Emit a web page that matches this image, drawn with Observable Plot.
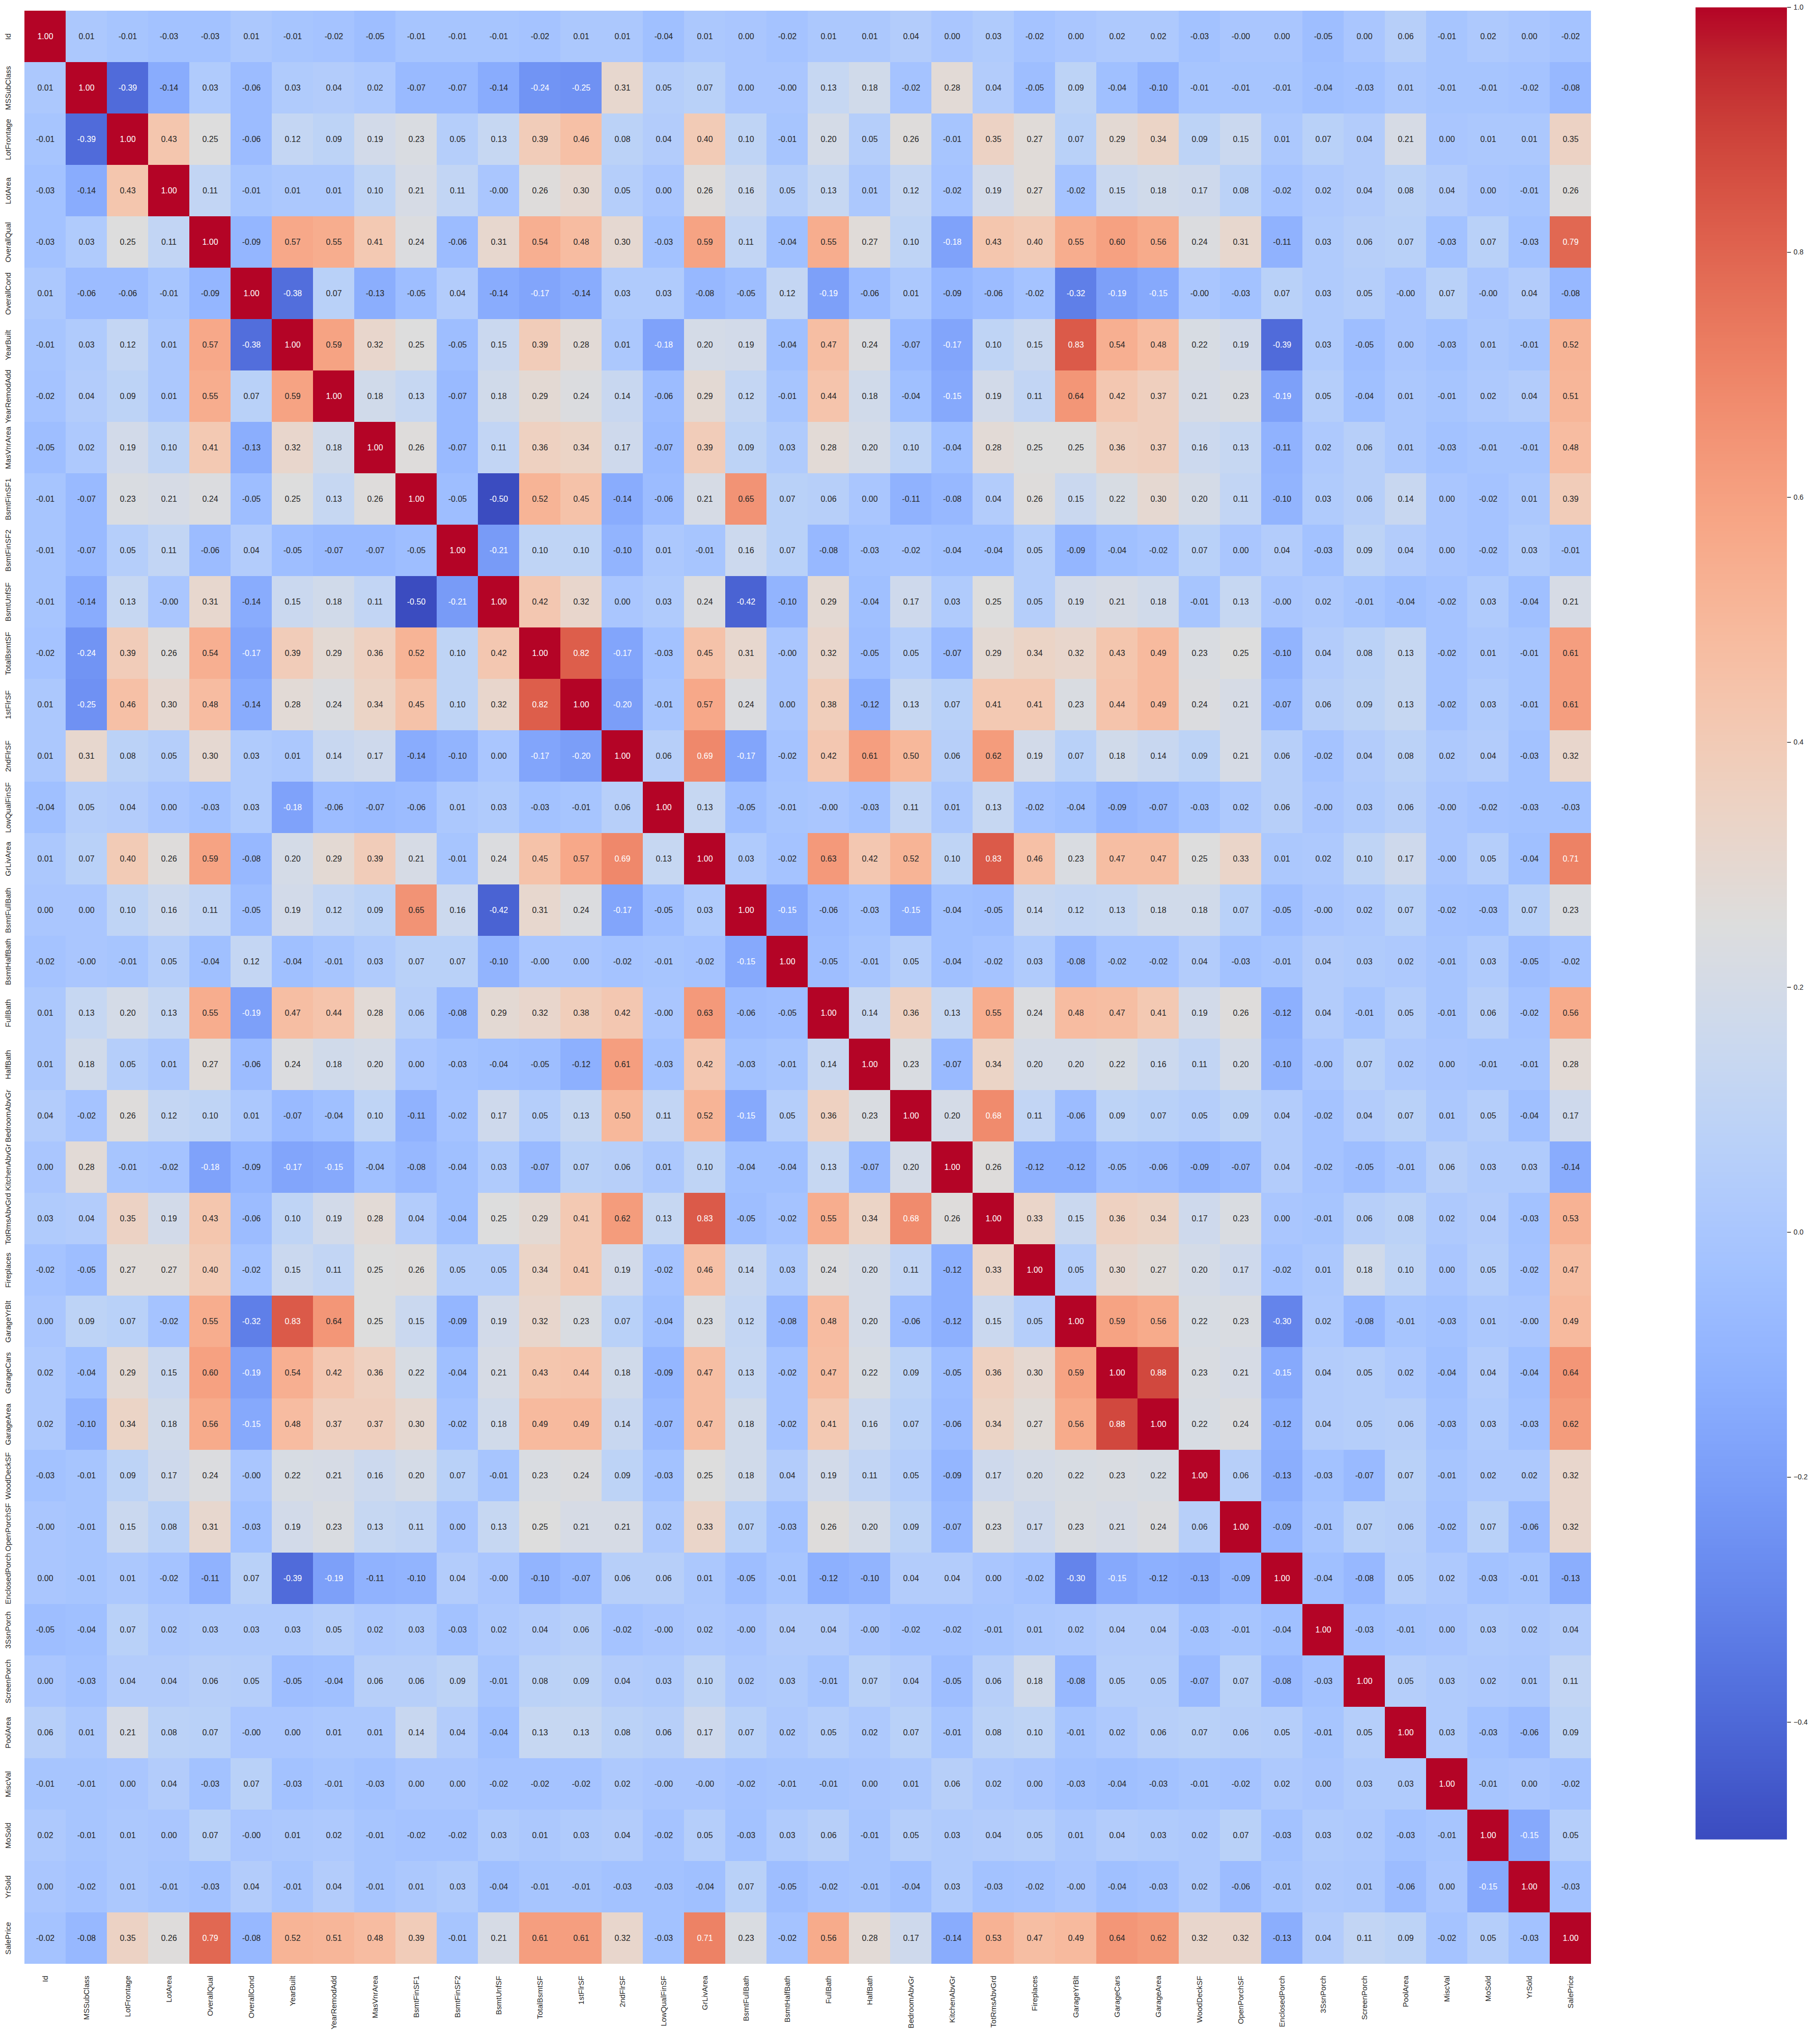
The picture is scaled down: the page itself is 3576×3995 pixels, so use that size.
<!DOCTYPE html>
<html>
<head>
<meta charset="utf-8">
<script src="https://cdn.jsdelivr.net/npm/d3@7"></script>
<script src="https://cdn.jsdelivr.net/npm/@observablehq/plot@0.6"></script>
<style>
  html, body { margin: 0; padding: 0; background: #ffffff; }
  #wrap { position: relative; width: 3576px; height: 3995px; background: #ffffff; }
  #main { position: absolute; left: 0; top: 0; }
  #cbar { position: absolute; left: 3331px; top: 0; }
</style>
</head>
<body>
<div id="wrap"><div id="main"></div><div id="cbar"></div></div>
<script>
// variable names (rows top->bottom, columns left->right)
const labels = ["Id","MSSubClass","LotFrontage","LotArea","OverallQual","OverallCond","YearBuilt","YearRemodAdd","MasVnrArea","BsmtFinSF1","BsmtFinSF2","BsmtUnfSF","TotalBsmtSF","1stFlrSF","2ndFlrSF","LowQualFinSF","GrLivArea","BsmtFullBath","BsmtHalfBath","FullBath","HalfBath","BedroomAbvGr","KitchenAbvGr","TotRmsAbvGrd","Fireplaces","GarageYrBlt","GarageCars","GarageArea","WoodDeckSF","OpenPorchSF","EnclosedPorch","3SsnPorch","ScreenPorch","PoolArea","MiscVal","MoSold","YrSold","SalePrice"];

// correlation matrix, one row per variable
const corr = [
[1.00,0.01,-0.01,-0.03,-0.03,0.01,-0.01,-0.02,-0.05,-0.01,-0.01,-0.01,-0.02,0.01,0.01,-0.04,0.01,0.00,-0.02,0.01,0.01,0.04,0.00,0.03,-0.02,0.00,0.02,0.02,-0.03,-0.00,0.00,-0.05,0.00,0.06,-0.01,0.02,0.00,-0.02],
[0.01,1.00,-0.39,-0.14,0.03,-0.06,0.03,0.04,0.02,-0.07,-0.07,-0.14,-0.24,-0.25,0.31,0.05,0.07,0.00,-0.00,0.13,0.18,-0.02,0.28,0.04,-0.05,0.09,-0.04,-0.10,-0.01,-0.01,-0.01,-0.04,-0.03,0.01,-0.01,-0.01,-0.02,-0.08],
[-0.01,-0.39,1.00,0.43,0.25,-0.06,0.12,0.09,0.19,0.23,0.05,0.13,0.39,0.46,0.08,0.04,0.40,0.10,-0.01,0.20,0.05,0.26,-0.01,0.35,0.27,0.07,0.29,0.34,0.09,0.15,0.01,0.07,0.04,0.21,0.00,0.01,0.01,0.35],
[-0.03,-0.14,0.43,1.00,0.11,-0.01,0.01,0.01,0.10,0.21,0.11,-0.00,0.26,0.30,0.05,0.00,0.26,0.16,0.05,0.13,0.01,0.12,-0.02,0.19,0.27,-0.02,0.15,0.18,0.17,0.08,-0.02,0.02,0.04,0.08,0.04,0.00,-0.01,0.26],
[-0.03,0.03,0.25,0.11,1.00,-0.09,0.57,0.55,0.41,0.24,-0.06,0.31,0.54,0.48,0.30,-0.03,0.59,0.11,-0.04,0.55,0.27,0.10,-0.18,0.43,0.40,0.55,0.60,0.56,0.24,0.31,-0.11,0.03,0.06,0.07,-0.03,0.07,-0.03,0.79],
[0.01,-0.06,-0.06,-0.01,-0.09,1.00,-0.38,0.07,-0.13,-0.05,0.04,-0.14,-0.17,-0.14,0.03,0.03,-0.08,-0.05,0.12,-0.19,-0.06,0.01,-0.09,-0.06,-0.02,-0.32,-0.19,-0.15,-0.00,-0.03,0.07,0.03,0.05,-0.00,0.07,-0.00,0.04,-0.08],
[-0.01,0.03,0.12,0.01,0.57,-0.38,1.00,0.59,0.32,0.25,-0.05,0.15,0.39,0.28,0.01,-0.18,0.20,0.19,-0.04,0.47,0.24,-0.07,-0.17,0.10,0.15,0.83,0.54,0.48,0.22,0.19,-0.39,0.03,-0.05,0.00,-0.03,0.01,-0.01,0.52],
[-0.02,0.04,0.09,0.01,0.55,0.07,0.59,1.00,0.18,0.13,-0.07,0.18,0.29,0.24,0.14,-0.06,0.29,0.12,-0.01,0.44,0.18,-0.04,-0.15,0.19,0.11,0.64,0.42,0.37,0.21,0.23,-0.19,0.05,-0.04,0.01,-0.01,0.02,0.04,0.51],
[-0.05,0.02,0.19,0.10,0.41,-0.13,0.32,0.18,1.00,0.26,-0.07,0.11,0.36,0.34,0.17,-0.07,0.39,0.09,0.03,0.28,0.20,0.10,-0.04,0.28,0.25,0.25,0.36,0.37,0.16,0.13,-0.11,0.02,0.06,0.01,-0.03,-0.01,-0.01,0.48],
[-0.01,-0.07,0.23,0.21,0.24,-0.05,0.25,0.13,0.26,1.00,-0.05,-0.50,0.52,0.45,-0.14,-0.06,0.21,0.65,0.07,0.06,0.00,-0.11,-0.08,0.04,0.26,0.15,0.22,0.30,0.20,0.11,-0.10,0.03,0.06,0.14,0.00,-0.02,0.01,0.39],
[-0.01,-0.07,0.05,0.11,-0.06,0.04,-0.05,-0.07,-0.07,-0.05,1.00,-0.21,0.10,0.10,-0.10,0.01,-0.01,0.16,0.07,-0.08,-0.03,-0.02,-0.04,-0.04,0.05,-0.09,-0.04,-0.02,0.07,0.00,0.04,-0.03,0.09,0.04,0.00,-0.02,0.03,-0.01],
[-0.01,-0.14,0.13,-0.00,0.31,-0.14,0.15,0.18,0.11,-0.50,-0.21,1.00,0.42,0.32,0.00,0.03,0.24,-0.42,-0.10,0.29,-0.04,0.17,0.03,0.25,0.05,0.19,0.21,0.18,-0.01,0.13,-0.00,0.02,-0.01,-0.04,-0.02,0.03,-0.04,0.21],
[-0.02,-0.24,0.39,0.26,0.54,-0.17,0.39,0.29,0.36,0.52,0.10,0.42,1.00,0.82,-0.17,-0.03,0.45,0.31,-0.00,0.32,-0.05,0.05,-0.07,0.29,0.34,0.32,0.43,0.49,0.23,0.25,-0.10,0.04,0.08,0.13,-0.02,0.01,-0.01,0.61],
[0.01,-0.25,0.46,0.30,0.48,-0.14,0.28,0.24,0.34,0.45,0.10,0.32,0.82,1.00,-0.20,-0.01,0.57,0.24,0.00,0.38,-0.12,0.13,0.07,0.41,0.41,0.23,0.44,0.49,0.24,0.21,-0.07,0.06,0.09,0.13,-0.02,0.03,-0.01,0.61],
[0.01,0.31,0.08,0.05,0.30,0.03,0.01,0.14,0.17,-0.14,-0.10,0.00,-0.17,-0.20,1.00,0.06,0.69,-0.17,-0.02,0.42,0.61,0.50,0.06,0.62,0.19,0.07,0.18,0.14,0.09,0.21,0.06,-0.02,0.04,0.08,0.02,0.04,-0.03,0.32],
[-0.04,0.05,0.04,0.00,-0.03,0.03,-0.18,-0.06,-0.07,-0.06,0.01,0.03,-0.03,-0.01,0.06,1.00,0.13,-0.05,-0.01,-0.00,-0.03,0.11,0.01,0.13,-0.02,-0.04,-0.09,-0.07,-0.03,0.02,0.06,-0.00,0.03,0.06,-0.00,-0.02,-0.03,-0.03],
[0.01,0.07,0.40,0.26,0.59,-0.08,0.20,0.29,0.39,0.21,-0.01,0.24,0.45,0.57,0.69,0.13,1.00,0.03,-0.02,0.63,0.42,0.52,0.10,0.83,0.46,0.23,0.47,0.47,0.25,0.33,0.01,0.02,0.10,0.17,-0.00,0.05,-0.04,0.71],
[0.00,0.00,0.10,0.16,0.11,-0.05,0.19,0.12,0.09,0.65,0.16,-0.42,0.31,0.24,-0.17,-0.05,0.03,1.00,-0.15,-0.06,-0.03,-0.15,-0.04,-0.05,0.14,0.12,0.13,0.18,0.18,0.07,-0.05,-0.00,0.02,0.07,-0.02,-0.03,0.07,0.23],
[-0.02,-0.00,-0.01,0.05,-0.04,0.12,-0.04,-0.01,0.03,0.07,0.07,-0.10,-0.00,0.00,-0.02,-0.01,-0.02,-0.15,1.00,-0.05,-0.01,0.05,-0.04,-0.02,0.03,-0.08,-0.02,-0.02,0.04,-0.03,-0.01,0.04,0.03,0.02,-0.01,0.03,-0.05,-0.02],
[0.01,0.13,0.20,0.13,0.55,-0.19,0.47,0.44,0.28,0.06,-0.08,0.29,0.32,0.38,0.42,-0.00,0.63,-0.06,-0.05,1.00,0.14,0.36,0.13,0.55,0.24,0.48,0.47,0.41,0.19,0.26,-0.12,0.04,-0.01,0.05,-0.01,0.06,-0.02,0.56],
[0.01,0.18,0.05,0.01,0.27,-0.06,0.24,0.18,0.20,0.00,-0.03,-0.04,-0.05,-0.12,0.61,-0.03,0.42,-0.03,-0.01,0.14,1.00,0.23,-0.07,0.34,0.20,0.20,0.22,0.16,0.11,0.20,-0.10,-0.00,0.07,0.02,0.00,-0.01,-0.01,0.28],
[0.04,-0.02,0.26,0.12,0.10,0.01,-0.07,-0.04,0.10,-0.11,-0.02,0.17,0.05,0.13,0.50,0.11,0.52,-0.15,0.05,0.36,0.23,1.00,0.20,0.68,0.11,-0.06,0.09,0.07,0.05,0.09,0.04,-0.02,0.04,0.07,0.01,0.05,-0.04,0.17],
[0.00,0.28,-0.01,-0.02,-0.18,-0.09,-0.17,-0.15,-0.04,-0.08,-0.04,0.03,-0.07,0.07,0.06,0.01,0.10,-0.04,-0.04,0.13,-0.07,0.20,1.00,0.26,-0.12,-0.12,-0.05,-0.06,-0.09,-0.07,0.04,-0.02,-0.05,-0.01,0.06,0.03,0.03,-0.14],
[0.03,0.04,0.35,0.19,0.43,-0.06,0.10,0.19,0.28,0.04,-0.04,0.25,0.29,0.41,0.62,0.13,0.83,-0.05,-0.02,0.55,0.34,0.68,0.26,1.00,0.33,0.15,0.36,0.34,0.17,0.23,0.00,-0.01,0.06,0.08,0.02,0.04,-0.03,0.53],
[-0.02,-0.05,0.27,0.27,0.40,-0.02,0.15,0.11,0.25,0.26,0.05,0.05,0.34,0.41,0.19,-0.02,0.46,0.14,0.03,0.24,0.20,0.11,-0.12,0.33,1.00,0.05,0.30,0.27,0.20,0.17,-0.02,0.01,0.18,0.10,0.00,0.05,-0.02,0.47],
[0.00,0.09,0.07,-0.02,0.55,-0.32,0.83,0.64,0.25,0.15,-0.09,0.19,0.32,0.23,0.07,-0.04,0.23,0.12,-0.08,0.48,0.20,-0.06,-0.12,0.15,0.05,1.00,0.59,0.56,0.22,0.23,-0.30,0.02,-0.08,-0.01,-0.03,0.01,-0.00,0.49],
[0.02,-0.04,0.29,0.15,0.60,-0.19,0.54,0.42,0.36,0.22,-0.04,0.21,0.43,0.44,0.18,-0.09,0.47,0.13,-0.02,0.47,0.22,0.09,-0.05,0.36,0.30,0.59,1.00,0.88,0.23,0.21,-0.15,0.04,0.05,0.02,-0.04,0.04,-0.04,0.64],
[0.02,-0.10,0.34,0.18,0.56,-0.15,0.48,0.37,0.37,0.30,-0.02,0.18,0.49,0.49,0.14,-0.07,0.47,0.18,-0.02,0.41,0.16,0.07,-0.06,0.34,0.27,0.56,0.88,1.00,0.22,0.24,-0.12,0.04,0.05,0.06,-0.03,0.03,-0.03,0.62],
[-0.03,-0.01,0.09,0.17,0.24,-0.00,0.22,0.21,0.16,0.20,0.07,-0.01,0.23,0.24,0.09,-0.03,0.25,0.18,0.04,0.19,0.11,0.05,-0.09,0.17,0.20,0.22,0.23,0.22,1.00,0.06,-0.13,-0.03,-0.07,0.07,-0.01,0.02,0.02,0.32],
[-0.00,-0.01,0.15,0.08,0.31,-0.03,0.19,0.23,0.13,0.11,0.00,0.13,0.25,0.21,0.21,0.02,0.33,0.07,-0.03,0.26,0.20,0.09,-0.07,0.23,0.17,0.23,0.21,0.24,0.06,1.00,-0.09,-0.01,0.07,0.06,-0.02,0.07,-0.06,0.32],
[0.00,-0.01,0.01,-0.02,-0.11,0.07,-0.39,-0.19,-0.11,-0.10,0.04,-0.00,-0.10,-0.07,0.06,0.06,0.01,-0.05,-0.01,-0.12,-0.10,0.04,0.04,0.00,-0.02,-0.30,-0.15,-0.12,-0.13,-0.09,1.00,-0.04,-0.08,0.05,0.02,-0.03,-0.01,-0.13],
[-0.05,-0.04,0.07,0.02,0.03,0.03,0.03,0.05,0.02,0.03,-0.03,0.02,0.04,0.06,-0.02,-0.00,0.02,-0.00,0.04,0.04,-0.00,-0.02,-0.02,-0.01,0.01,0.02,0.04,0.04,-0.03,-0.01,-0.04,1.00,-0.03,-0.01,0.00,0.03,0.02,0.04],
[0.00,-0.03,0.04,0.04,0.06,0.05,-0.05,-0.04,0.06,0.06,0.09,-0.01,0.08,0.09,0.04,0.03,0.10,0.02,0.03,-0.01,0.07,0.04,-0.05,0.06,0.18,-0.08,0.05,0.05,-0.07,0.07,-0.08,-0.03,1.00,0.05,0.03,0.02,0.01,0.11],
[0.06,0.01,0.21,0.08,0.07,-0.00,0.00,0.01,0.01,0.14,0.04,-0.04,0.13,0.13,0.08,0.06,0.17,0.07,0.02,0.05,0.02,0.07,-0.01,0.08,0.10,-0.01,0.02,0.06,0.07,0.06,0.05,-0.01,0.05,1.00,0.03,-0.03,-0.06,0.09],
[-0.01,-0.01,0.00,0.04,-0.03,0.07,-0.03,-0.01,-0.03,0.00,0.00,-0.02,-0.02,-0.02,0.02,-0.00,-0.00,-0.02,-0.01,-0.01,0.00,0.01,0.06,0.02,0.00,-0.03,-0.04,-0.03,-0.01,-0.02,0.02,0.00,0.03,0.03,1.00,-0.01,0.00,-0.02],
[0.02,-0.01,0.01,0.00,0.07,-0.00,0.01,0.02,-0.01,-0.02,-0.02,0.03,0.01,0.03,0.04,-0.02,0.05,-0.03,0.03,0.06,-0.01,0.05,0.03,0.04,0.05,0.01,0.04,0.03,0.02,0.07,-0.03,0.03,0.02,-0.03,-0.01,1.00,-0.15,0.05],
[0.00,-0.02,0.01,-0.01,-0.03,0.04,-0.01,0.04,-0.01,0.01,0.03,-0.04,-0.01,-0.01,-0.03,-0.03,-0.04,0.07,-0.05,-0.02,-0.01,-0.04,0.03,-0.03,-0.02,-0.00,-0.04,-0.03,0.02,-0.06,-0.01,0.02,0.01,-0.06,0.00,-0.15,1.00,-0.03],
[-0.02,-0.08,0.35,0.26,0.79,-0.08,0.52,0.51,0.48,0.39,-0.01,0.21,0.61,0.61,0.32,-0.03,0.71,0.23,-0.02,0.56,0.28,0.17,-0.14,0.53,0.47,0.49,0.64,0.62,0.32,0.32,-0.13,0.04,0.11,0.09,-0.02,0.05,-0.03,1.00]
];

// colour bar ticks and limits
const colorbarTicks = [-0.4, -0.2, 0.0, 0.2, 0.4, 0.6, 0.8, 1.0];
const vmin = -0.4957, vmax = 1.0;

// coolwarm colormap stops (Moreland)
const coolwarm = ["#3b4cc0","#445acc","#4d68d7","#5775e1","#6282ea","#6c8ef1","#779af7","#82a5fb","#8db0fe","#98b9ff","#a3c2ff","#aec9fd","#b8d0f9","#c2d5f4","#ccd9ee","#d5dbe6","#dddddd","#e5d8d1","#ecd3c5","#f1ccb8","#f5c4ac","#f7bb9f","#f7b193","#f7a686","#f49a7b","#f18d6f","#ec7f63","#e57058","#de604d","#d55042","#cb3e38","#c0282f","#b40426"];
const interp = d3.piecewise(d3.interpolateRgb, coolwarm);

function cellColor(v) {
  const t = Math.max(0, Math.min(1, (v - vmin) / (vmax - vmin)));
  return interp(t);
}
function luminance(c) {
  const {r, g, b} = d3.rgb(c);
  const lin = x => { x /= 255; return x <= 0.03928 ? x / 12.92 : Math.pow((x + 0.055) / 1.055, 2.4); };
  return 0.2126 * lin(r) + 0.7152 * lin(g) + 0.0722 * lin(b);
}
function fmt(v) { return (Object.is(v, -0) ? "-" : "") + v.toFixed(2); }

const cells = [];
corr.forEach((row, i) => row.forEach((v, j) => cells.push({row: labels[i], col: labels[j], value: v})));

const font = "'Liberation Sans', Arial, 'DejaVu Sans', sans-serif";
const colorScale = {type: "linear", domain: [vmin, vmax], interpolate: interp, clamp: true};

const main = Plot.plot({
  width: 3147,
  height: 3995,
  marginLeft: 37,
  marginTop: 15,
  marginRight: 10,
  marginBottom: 130,
  style: {fontFamily: font, fontSize: "15px", background: "#ffffff"},
  x: {type: "band", domain: labels, padding: 0, axis: null},
  y: {type: "band", domain: labels, padding: 0, axis: null},
  color: colorScale,
  marks: [
    Plot.cell(cells, {x: "col", y: "row", fill: "value", inset: 0, shapeRendering: "crispEdges"}),
    Plot.text(cells, {x: "col", y: "row", text: d => fmt(d.value), fill: d => luminance(cellColor(d.value)) > 0.408 ? "#262626" : "#ffffff", fontSize: 16, fontFamily: font}),
    Plot.text(labels, {y: d => d, frameAnchor: "left", dx: -21, rotate: -90, textAnchor: "middle", lineAnchor: "middle", fontSize: 15, fill: "#262626", fontFamily: font}),
    Plot.text(labels, {x: d => d, frameAnchor: "bottom", dy: 17, rotate: -90, textAnchor: "end", lineAnchor: "middle", fontSize: 15, fill: "#262626", fontFamily: font})
  ]
});
document.getElementById("main").appendChild(main);

const barMark = Plot.raster
  ? Plot.raster({x1: 0, x2: 1, y1: vmin, y2: vmax, width: 1, height: 600, fill: (x, y) => y})
  : Plot.rect(d3.range(vmin, vmax, 0.004), {x1: 0, x2: 1, y1: d => d, y2: d => Math.min(vmax, d + 0.0045), fill: d => d});

const cbar = Plot.plot({
  width: 262,
  height: 3995,
  marginLeft: 0,
  marginRight: 70,
  marginTop: 15,
  marginBottom: 130,
  style: {fontFamily: font, fontSize: "15px", background: "transparent"},
  x: {domain: [0, 1], axis: null},
  y: {domain: [vmin, vmax], axis: null},
  color: colorScale,
  marks: [
    barMark,
    Plot.axisY({anchor: "right", ticks: colorbarTicks, tickFormat: d3.format(".1f"), tickSize: 8, tickPadding: 6, fontSize: 15, stroke: "#262626", strokeWidth: 1.5, fill: "#262626", label: null})
  ]
});
document.getElementById("cbar").appendChild(cbar);
</script>
</body>
</html>
